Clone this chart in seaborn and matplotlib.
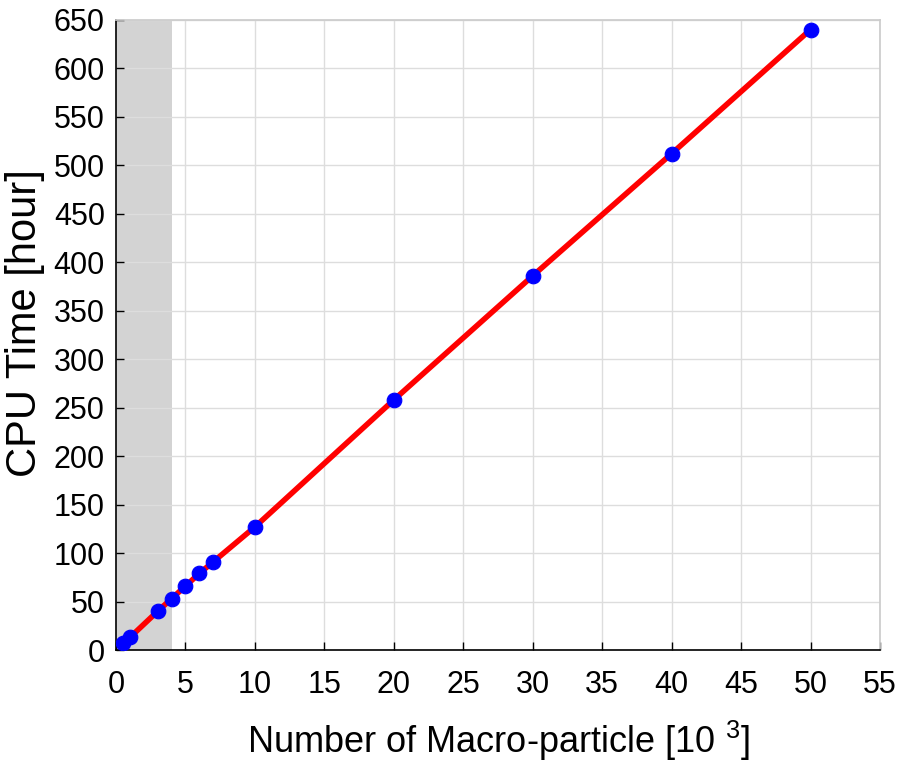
import matplotlib
matplotlib.use("Agg")
import matplotlib.pyplot as plt
import seaborn as sns
import pandas as pd

particles = [0.5, 1, 3, 4, 5, 6, 7, 10, 20, 30, 40, 50]
cpu_hours = [7, 13, 40, 53, 66, 79, 91, 127, 258, 386, 512, 640]
x_ticks = list(range(0, 56, 5))
y_ticks = list(range(0, 651, 50))

sns.set_theme(style="white")
plt.rcParams['font.family'] = ['Liberation Sans', 'DejaVu Sans']
plt.rcParams['mathtext.fontset'] = 'custom'
plt.rcParams['mathtext.rm'] = 'Liberation Sans'
plt.rcParams['text.color'] = 'black'
plt.rcParams['axes.labelcolor'] = 'black'

df = pd.DataFrame({"x": particles, "y": cpu_hours})

fig = plt.figure(figsize=(9.01, 7.63), dpi=100)
ax = fig.add_axes([0.1287, 0.148, 0.848, 0.826])

ax.axvspan(0, 4, color="#d3d3d3", zorder=0, lw=0)
sns.lineplot(data=df, x="x", y="y", ax=ax, color="red", linewidth=4, zorder=3)
sns.scatterplot(data=df, x="x", y="y", ax=ax, color="blue", s=110, edgecolor="blue", zorder=4)

ax.set_xlim(0, 55)
ax.set_ylim(0, 650)
ax.set_xticks(x_ticks)
ax.set_yticks(y_ticks)
ax.grid(True, color="#dddddd", linewidth=1)
ax.set_axisbelow(True)
for s in ["top", "right"]:
    ax.spines[s].set_color("#cccccc")
for s in ["left", "bottom"]:
    ax.spines[s].set_color("black")
    ax.spines[s].set_linewidth(1.2)
ax.tick_params(axis="both", direction="in", length=6, width=1, colors="black",
               labelsize=22, bottom=True, left=True)
ax.tick_params(axis="x", pad=14)
ax.tick_params(axis="y", pad=8)
ax.set_xlabel(r"Number of Macro-particle [10 $^{3}$]", fontsize=26, labelpad=14)
ax.set_ylabel("CPU Time [hour]", fontsize=30)
ax.yaxis.set_label_coords(-0.093, 0.519)

fig.savefig("out.png", dpi=100)
